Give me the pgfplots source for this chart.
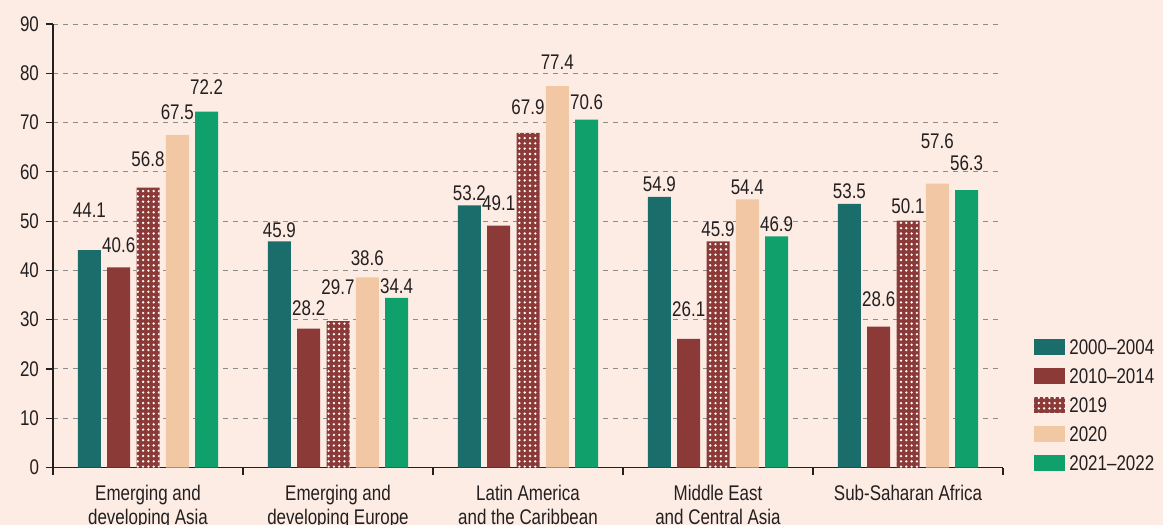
\documentclass[border=0pt]{standalone}
\usepackage{fontspec}
\setmainfont{Liberation Sans}[FakeStretch=0.8]
\usepackage{pgfplots}
\pgfplotsset{compat=1.18}
\usepackage{pgfplotstable}
\usetikzlibrary{patterns}

\definecolor{bgpeach}{HTML}{FDECE4}
\definecolor{cteal}{HTML}{1A6D6B}
\definecolor{cred}{HTML}{8B3A38}
\definecolor{cpeach}{HTML}{F1C8A3}
\definecolor{cgreen}{HTML}{10A06B}
\definecolor{txt}{HTML}{231F20}

\pgfdeclarepatternformonly{wdots}{\pgfqpoint{-1pt}{-1pt}}{\pgfqpoint{1pt}{1pt}}{\pgfqpoint{2.65pt}{2.65pt}}%
{\pgfpathcircle{\pgfqpoint{0pt}{0pt}}{0.65pt}\pgfusepath{fill}}

% off = label centre above bar top, in px of the reference
\pgfplotstableread{
x v off
0 44.1 40
1 45.9 11
2 53.2 12
3 54.9 12
4 53.5 12
}\tabA
\pgfplotstableread{
x v off
0 40.6 22
1 28.2 20
2 49.1 22
3 26.1 29
4 28.6 27
}\tabB
\pgfplotstableread{
x v off
0 56.8 28
1 29.7 34
2 67.9 25
3 45.9 12
4 50.1 14
}\tabC
\pgfplotstableread{
x v off
0 67.5 22
1 38.6 19
2 77.4 24
3 54.4 12
4 57.6 42
}\tabD
\pgfplotstableread{
x v off
0 72.2 24
1 34.4 11
2 70.6 17
3 46.9 12
4 56.3 27
}\tabE

\pgfplotsset{
  lbl/.style={visualization depends on={\thisrow{off}\as\off}},
}

\begin{document}
\begin{tikzpicture}
\fill[bgpeach] (-26.5pt,-28.75pt) rectangle (555pt,233.75pt);
\begin{axis}[
  at={(0,0)}, anchor=south west,
  scale only axis,
  width=475pt, height=221.75pt,
  font=\fontsize{10.6}{12}\selectfont,
  /pgf/number format/assume math mode=true,
  ybar=3.15pt, bar width=11.5pt,
  xmin=-0.5, xmax=4.5, ymin=0, ymax=90,
  axis lines=left,
  axis line style={-, line width=0.6pt, color=txt},
  ytick={0,10,...,90},
  xtick={0,1,2,3,4},
  xticklabels={{Emerging and\\developing Asia},{Emerging and\\developing Europe},{Latin America\\and the Caribbean},{Middle East\\and Central Asia},{Sub-Saharan Africa}},
  xticklabel style={align=center, text=txt, yshift=-2pt},
  yticklabel style={text=txt},
  minor xtick={-0.5,0.5,...,4.5},
  major x tick style={draw=none},
  minor x tick style={line width=0.6pt, color=txt},
  y tick style={line width=0.6pt, color=txt},
  tick align=outside,
  major tick length=3.5pt, minor tick length=3.5pt,
  ymajorgrids,
  major grid style={dashed, dash pattern=on 2.5pt off 2.5pt, line width=0.5pt, color=black!45},
  nodes near coords={\pgfmathprintnumber[fixed,fixed zerofill,precision=1]{\pgfplotspointmeta}},
  every node near coord/.append style={anchor=south, inner sep=0pt, text=txt, font=\fontsize{10.6}{12}\selectfont, yshift={\off*0.5pt-3.8pt}},
  legend image code/.code={\draw[#1, draw=none] (0pt,-4pt) rectangle (15.5pt,4pt);},
  legend style={at={(1.0326,0.2897)}, anchor=north west, draw=none, fill=none, inner sep=0pt,
    row sep=6.5pt, column sep=2pt, font=\fontsize{10.6}{12}\selectfont, text=txt,
    nodes={inner sep=0pt, text height=7.5pt, text depth=0pt}},
  legend cell align=left,
]
\addplot[lbl, fill=cteal, draw=none] table[x=x, y=v] {\tabA};
\addplot[lbl, fill=cred, draw=none] table[x=x, y=v] {\tabB};
\addplot[lbl, fill=cred, draw=none, postaction={pattern=wdots, pattern color=white}] table[x=x, y=v] {\tabC};
\addplot[lbl, fill=cpeach, draw=none] table[x=x, y=v] {\tabD};
\addplot[lbl, fill=cgreen, draw=none] table[x=x, y=v] {\tabE};
\legend{2000--2004, 2010--2014, 2019, 2020, 2021--2022}
\end{axis}
\pgfresetboundingbox
\useasboundingbox (-26.5pt,-28.75pt) rectangle (555pt,233.75pt);
\end{tikzpicture}
\end{document}
